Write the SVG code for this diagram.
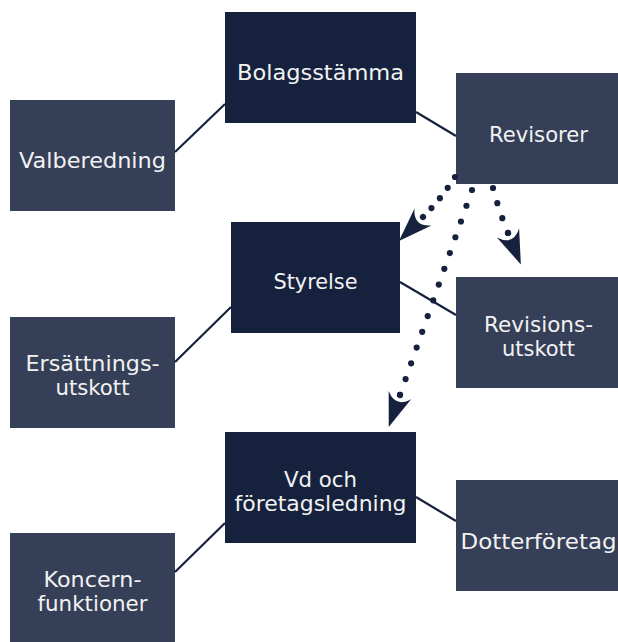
<svg xmlns="http://www.w3.org/2000/svg" width="618" height="642" viewBox="0 0 618 642">
<style>
.dark{fill:#16223d}
.slate{fill:#353f57}
.lbl{font-family:"DejaVu Sans","Noto Sans",sans-serif;font-size:21px;fill:#f2f2f2;text-anchor:middle}
.ln{stroke:#16223d;stroke-width:2.2;fill:none}
.dot{stroke:#16223d;stroke-width:6.2;stroke-linecap:round;fill:none}
</style>
<defs>
<marker id="arr" markerUnits="userSpaceOnUse" orient="auto" overflow="visible" markerWidth="1" markerHeight="1" refX="0" refY="0">
<circle r="3.1" fill="#16223d"/>
<path d="M34,0 L0,-12 Q14,0 0,12 Z" fill="#16223d"/>
</marker>
</defs>
<g id="valberedning"><rect class="slate" x="10" y="100" width="165" height="111"/><text class="lbl" x="92.5" y="168" textLength="147" lengthAdjust="spacingAndGlyphs">Valberedning</text></g>
<g id="bolagsstamma"><rect class="dark" x="225" y="12" width="191" height="111"/><text class="lbl" x="320.5" y="80" textLength="167" lengthAdjust="spacingAndGlyphs">Bolagsstämma</text></g>
<g id="revisorer"><rect class="slate" x="456" y="73" width="165" height="111"/><text class="lbl" x="538.5" y="142" textLength="99" lengthAdjust="spacingAndGlyphs">Revisorer</text></g>
<g id="styrelse"><rect class="dark" x="231" y="222" width="169" height="111"/><text class="lbl" x="315.5" y="289" textLength="84" lengthAdjust="spacingAndGlyphs">Styrelse</text></g>
<g id="ersattningsutskott"><rect class="slate" x="10" y="317" width="165" height="111"/><text class="lbl" x="92.5" y="371" textLength="134" lengthAdjust="spacingAndGlyphs">Ersättnings-</text><text class="lbl" x="92.5" y="395" textLength="74" lengthAdjust="spacingAndGlyphs">utskott</text></g>
<g id="revisionsutskott"><rect class="slate" x="456" y="277" width="165" height="111"/><text class="lbl" x="538.5" y="332" textLength="109" lengthAdjust="spacingAndGlyphs">Revisions-</text><text class="lbl" x="538.5" y="356" textLength="73" lengthAdjust="spacingAndGlyphs">utskott</text></g>
<g id="vd"><rect class="dark" x="225" y="432" width="191" height="111"/><text class="lbl" x="320.5" y="487" textLength="73" lengthAdjust="spacingAndGlyphs">Vd och</text><text class="lbl" x="320.5" y="511" textLength="172" lengthAdjust="spacingAndGlyphs">företagsledning</text></g>
<g id="koncernfunktioner"><rect class="slate" x="10" y="533" width="165" height="111"/><text class="lbl" x="92.5" y="587" textLength="98" lengthAdjust="spacingAndGlyphs">Koncern-</text><text class="lbl" x="92.5" y="611" textLength="110" lengthAdjust="spacingAndGlyphs">funktioner</text></g>
<g id="dotterforetag"><rect class="slate" x="456" y="480" width="165" height="111"/><text class="lbl" x="538.5" y="549" textLength="156" lengthAdjust="spacingAndGlyphs">Dotterföretag</text></g>
<g id="connectors">
<line class="ln" x1="175" y1="152" x2="225" y2="104"/>
<line class="ln" x1="416" y1="112" x2="456" y2="136"/>
<line class="ln" x1="175" y1="362" x2="231" y2="307"/>
<line class="ln" x1="400" y1="282" x2="456" y2="315"/>
<line class="ln" x1="175" y1="572" x2="225" y2="523"/>
<line class="ln" x1="416" y1="497" x2="456" y2="521"/>
<path class="dot" d="M455,177 Q441,199 423,217" stroke-dasharray="0 13" marker-end="url(#arr)"/>
<path class="dot" d="M493,188 Q499,211 508,233" stroke-dasharray="0 15.8" marker-end="url(#arr)"/>
<path class="dot" d="M472,190 L400,395" stroke-dasharray="0 16.7" marker-end="url(#arr)"/>
</g>
</svg>
